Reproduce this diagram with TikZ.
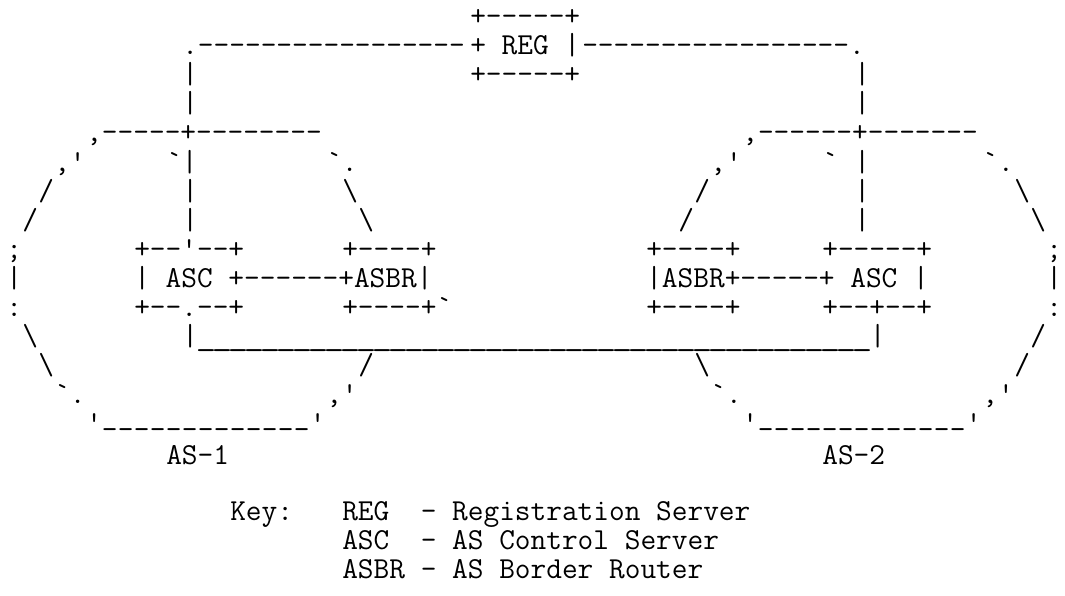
\documentclass[tikz,border=0pt]{standalone}
\usepackage{fontspec}
\usepackage{graphicx}
\setmonofont{Latin Modern Mono}
\ExplSyntaxOn
\cs_new:Npn \myrep #1#2 { \prg_replicate:nn {#1} {#2} }
\ExplSyntaxOff
\tikzset{
  ascii/.style={anchor=base west, inner sep=0pt, outer sep=0pt, text=black,
    font=\ttfamily\fontsize{22.857}{26}\selectfont}
}
% segment: name, column, row, text
\newcommand\seg[4]{\node[ascii] (#1) at ({6.3+16*#2},{25.5+29.1*#3}) {#4};}
\newcommand\bs{\textbackslash}
\newcommand\usc{\makebox[12pt][l]{\string_}}
\newcommand\uscc{\makebox[12pt][c]{\scalebox{1.3}[1]{\string_}}}
\begin{document}
\begin{tikzpicture}[x=0.75pt,y=-0.75pt]
\useasboundingbox (0,0) rectangle (1065,596);
% row 0-3: REG and its links
\seg{r0a}{29}{0}{+-----+}
\seg{r1a}{11}{1}{.\myrep{17}{-}}
\seg{r1b}{29}{1}{+~REG~|}
\seg{r1c}{36}{1}{\myrep{17}{-}.}
\seg{r2a}{11}{2}{|}
\seg{r2b}{29}{2}{+-----+}
\seg{r2c}{53}{2}{|}
\seg{r3a}{11}{3}{|}
\seg{r3b}{53}{3}{|}
% row 4
\seg{r4a}{5}{4}{,-----+--------}
\seg{r4b}{46}{4}{,------+-------}
% row 5
\seg{r5a}{3}{5}{,'}
\seg{r5b}{10}{5}{`|}
\seg{r5c}{20}{5}{`.}
\seg{r5d}{44}{5}{,'}
\seg{r5e}{51}{5}{`}
\seg{r5f}{53}{5}{|}
\seg{r5g}{61}{5}{`.}
% row 6
\seg{r6a}{2}{6}{/}
\seg{r6b}{11}{6}{|}
\seg{r6c}{21}{6}{\bs}
\seg{r6d}{43}{6}{/}
\seg{r6e}{53}{6}{|}
\seg{r6f}{63}{6}{\bs}
% row 7
\seg{r7a}{1}{7}{/}
\seg{r7b}{11}{7}{|}
\seg{r7c}{22}{7}{\bs}
\seg{r7d}{42}{7}{/}
\seg{r7e}{53}{7}{|}
\seg{r7f}{64}{7}{\bs}
% row 8
\seg{r8a}{0}{8}{;}
\seg{r8b}{8}{8}{+--'--+}
\seg{r8c}{21}{8}{+----+}
\seg{r8d}{40}{8}{+----+}
\seg{r8e}{51}{8}{+-----+}
\seg{r8f}{65}{8}{;}
% row 9
\seg{r9a}{0}{9}{|}
\seg{r9b}{8}{9}{|~ASC~+------+ASBR|}
\seg{r9c}{40}{9}{|ASBR+-----+~ASC~|}
\seg{r9d}{65}{9}{|}
% row 10
\seg{r10a}{0}{10}{:}
\seg{r10b}{8}{10}{+--.--+}
\seg{r10c}{21}{10}{+----+`}
\seg{r10d}{40}{10}{+----+}
\seg{r10e}{51}{10}{+--+--+}
\seg{r10f}{65}{10}{:}
% row 11
\seg{r11a}{1}{11}{\bs}
\seg{r11b}{11}{11}{|\myrep{42}{\uscc}|}
\seg{r11c}{64}{11}{/}
% row 12
\seg{r12a}{2}{12}{\bs}
\seg{r12b}{22}{12}{/}
\seg{r12c}{43}{12}{\bs}
\seg{r12d}{63}{12}{/}
% row 13
\seg{r13a}{3}{13}{`.}
\seg{r13b}{20}{13}{,'}
\seg{r13c}{44}{13}{`.}
\seg{r13d}{61}{13}{,'}
% row 14
\seg{r14a}{5}{14}{'\raisebox{6.5pt}{\myrep{13}{\usc}}'}
\seg{r14b}{46}{14}{'\raisebox{6.5pt}{\myrep{13}{\usc}}'}
% row 15
\seg{r15a}{10}{15.1}{AS-1}
\seg{r15b}{51}{15.1}{AS-2}
% key
\seg{k0}{14}{17}{Key:}
\seg{k1}{21}{17}{REG~~-~Registration~Server}
\seg{k2}{21}{18}{ASC~~-~AS~Control~Server}
\seg{k3}{21}{19}{ASBR~-~AS~Border~Router}
\end{tikzpicture}
\end{document}
